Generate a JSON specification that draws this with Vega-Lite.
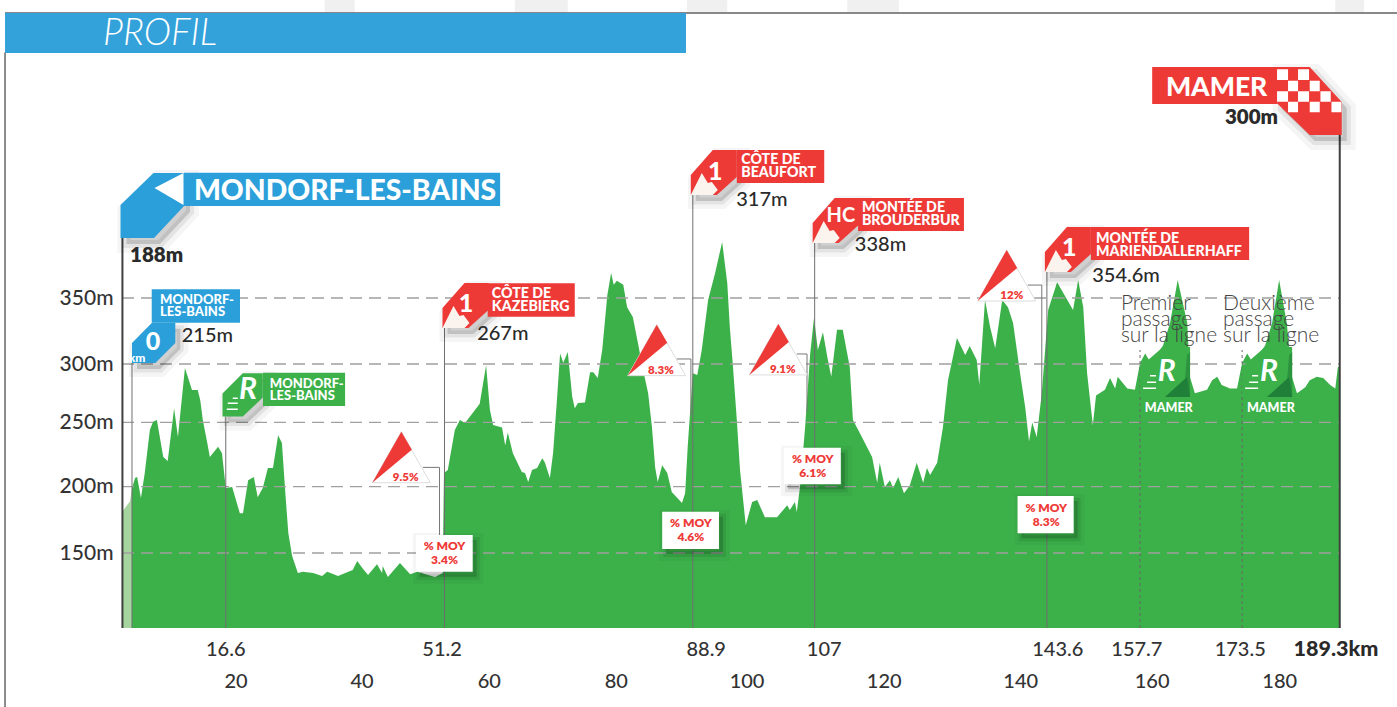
{"$schema":"https://vega.github.io/schema/vega-lite/v6.json","width":1218,"height":628,"autosize":{"type":"none"},"padding":{"left":122,"top":0,"right":57,"bottom":79},"background":"white","config":{"view":{"stroke":null},"text":{"font":"Lato"},"axis":{"labelFont":"Lato"}},
"datasets":{"profile":[{"km":0,"m":199},{"km":0.5,"m":207},{"km":0.8,"m":207.5},{"km":1.4,"m":191.5},{"km":2,"m":210.6},{"km":2.8,"m":244},{"km":3.3,"m":250.5},{"km":3.9,"m":252},{"km":4.9,"m":223},{"km":5.6,"m":220},{"km":6.6,"m":262},{"km":7.2,"m":238.6},{"km":8.3,"m":296.6},{"km":9.4,"m":277.7},{"km":10.3,"m":277.7},{"km":10.7,"m":269},{"km":11.1,"m":252},{"km":11.8,"m":234},{"km":12.2,"m":223},{"km":13.5,"m":231},{"km":14.1,"m":226},{"km":14.7,"m":199},{"km":15.7,"m":199.8},{"km":16.9,"m":180},{"km":17.4,"m":180},{"km":18.2,"m":205},{"km":19.1,"m":207.5},{"km":19.7,"m":192},{"km":20.5,"m":199},{"km":21.3,"m":214.6},{"km":22.1,"m":214.6},{"km":22.9,"m":240},{"km":23.5,"m":234},{"km":24,"m":197.5},{"km":24.5,"m":165},{"km":25.1,"m":147.6},{"km":26,"m":134},{"km":26.8,"m":135},{"km":28.4,"m":134},{"km":29.8,"m":131.6},{"km":30.6,"m":135},{"km":32.3,"m":131.6},{"km":33.9,"m":135},{"km":34.6,"m":136.4},{"km":35.3,"m":143.6},{"km":36.1,"m":138},{"km":37,"m":132.4},{"km":38.4,"m":141},{"km":39.2,"m":134},{"km":39.3,"m":139.6},{"km":40.1,"m":130.8},{"km":42,"m":142},{"km":43.6,"m":133},{"km":44.7,"m":135},{"km":47.5,"m":130.8},{"km":48.7,"m":134},{"km":48.9,"m":210.6},{"km":49.1,"m":211.5},{"km":49.5,"m":213},{"km":50.6,"m":244},{"km":51.4,"m":252},{"km":52.2,"m":249.5},{"km":53.4,"m":258},{"km":54.5,"m":266},{"km":55.5,"m":299},{"km":56.1,"m":260.5},{"km":56.6,"m":248},{"km":58,"m":246},{"km":58.5,"m":232},{"km":58.9,"m":242},{"km":59.7,"m":226},{"km":61.1,"m":211.5},{"km":61.6,"m":210.6},{"km":62.1,"m":203.6},{"km":62.7,"m":213},{"km":63.5,"m":214.6},{"km":64.3,"m":222},{"km":64.7,"m":219},{"km":65.5,"m":206.8},{"km":66,"m":226},{"km":66.6,"m":269},{"km":67.1,"m":308},{"km":67.6,"m":301},{"km":68.3,"m":309},{"km":69,"m":272},{"km":69.4,"m":262},{"km":69.9,"m":266.5},{"km":71,"m":267},{"km":71.8,"m":293},{"km":72.3,"m":293},{"km":73,"m":288},{"km":73.7,"m":310.6},{"km":74.5,"m":352},{"km":75.1,"m":369},{"km":75.5,"m":360},{"km":76,"m":363},{"km":77,"m":360},{"km":77.6,"m":343},{"km":78.5,"m":335.6},{"km":79.3,"m":316},{"km":80.1,"m":295},{"km":80.9,"m":275},{"km":81.5,"m":246},{"km":82,"m":215},{"km":82.4,"m":203.6},{"km":83.1,"m":216.6},{"km":83.9,"m":210.6},{"km":84.6,"m":196},{"km":86.2,"m":187.7},{"km":86.7,"m":195},{"km":87.1,"m":231},{"km":87.9,"m":292},{"km":88.6,"m":290.6},{"km":89.3,"m":310.6},{"km":90.3,"m":348.5},{"km":91.4,"m":369},{"km":92.5,"m":392.4},{"km":93.3,"m":361.4},{"km":93.7,"m":328},{"km":94.2,"m":297.4},{"km":94.8,"m":252},{"km":95.3,"m":213},{"km":96.2,"m":171},{"km":97.2,"m":188.5},{"km":98,"m":190},{"km":98.7,"m":182.4},{"km":99.2,"m":177},{"km":101.1,"m":177},{"km":102.7,"m":186},{"km":103.1,"m":182.4},{"km":103.9,"m":188.5},{"km":104.2,"m":181},{"km":104.7,"m":199.8},{"km":105.5,"m":246},{"km":106.3,"m":308},{"km":106.9,"m":335},{"km":107.5,"m":310.6},{"km":108.3,"m":324},{"km":109,"m":305},{"km":109.6,"m":289},{"km":110.5,"m":326},{"km":111.4,"m":326},{"km":112.5,"m":297.4},{"km":113,"m":252},{"km":114.4,"m":238.6},{"km":116,"m":223},{"km":116.8,"m":203},{"km":117.2,"m":218.5},{"km":118,"m":199.8},{"km":118.8,"m":205},{"km":119.3,"m":199},{"km":120.1,"m":207.5},{"km":121,"m":195},{"km":121.9,"m":201},{"km":123,"m":218.5},{"km":124,"m":203},{"km":124.6,"m":214.6},{"km":125.1,"m":209},{"km":126.2,"m":218.5},{"km":127.1,"m":246},{"km":127.9,"m":286},{"km":129.3,"m":319.7},{"km":130.6,"m":306.8},{"km":131.3,"m":313.6},{"km":132.4,"m":303},{"km":132.8,"m":282},{"km":133.7,"m":348.5},{"km":134.5,"m":328},{"km":135.3,"m":312},{"km":136.4,"m":348.5},{"km":137.3,"m":343},{"km":138.1,"m":331},{"km":139.2,"m":292},{"km":140,"m":263},{"km":140.6,"m":235},{"km":141.1,"m":249.8},{"km":141.8,"m":238.6},{"km":142.6,"m":275},{"km":143.6,"m":341},{"km":145,"m":362},{"km":147.5,"m":341},{"km":148.3,"m":363.6},{"km":149.1,"m":343},{"km":149.7,"m":292},{"km":150.6,"m":248},{"km":151.1,"m":273},{"km":152.5,"m":278},{"km":153.3,"m":288},{"km":154.1,"m":279},{"km":154.5,"m":289},{"km":156,"m":279},{"km":157.2,"m":278},{"km":158,"m":300.8},{"km":158.8,"m":308},{"km":159.6,"m":301.5},{"km":160.3,"m":305},{"km":161.6,"m":314},{"km":162.7,"m":331},{"km":163.9,"m":363.6},{"km":165.4,"m":331},{"km":165.8,"m":289},{"km":166.6,"m":275},{"km":168.5,"m":278},{"km":169.3,"m":286},{"km":170.1,"m":289},{"km":170.8,"m":282},{"km":172.1,"m":279},{"km":173.2,"m":279},{"km":174,"m":300.8},{"km":174.8,"m":308},{"km":175.6,"m":301.5},{"km":176.3,"m":305},{"km":177.6,"m":314},{"km":178.7,"m":331},{"km":179.8,"m":363.6},{"km":181,"m":331},{"km":181.8,"m":289},{"km":182.6,"m":275},{"km":183.9,"m":280},{"km":184.6,"m":286},{"km":185.7,"m":289},{"km":186.7,"m":288},{"km":187.8,"m":282},{"km":188.6,"m":279},{"km":189,"m":297},{"km":189.3,"m":299}],
"redCaps":[{"km":48.98,"m":327.3},{"km":87.9,"m":428},{"km":107,"m":391.7},{"km":143.4,"m":369.7}],
"gradeTri":[{"km":37.67,"m":203.1},{"km":77.7,"m":290},{"km":96.76,"m":290.6},{"km":132.55,"m":347.7}],
"moy":[{"km":44.5,"km2":53.4,"m":163.6,"m2":135},{"km":83.1,"km2":92,"m":181.1,"m2":153},{"km":102.2,"km2":111.1,"m":230.3,"m2":201.9},{"km":138.8,"km2":147.6,"m":193,"m2":164.9}],
"mamerFlags":[{"km":158,"m":271.7},{"km":174,"m":271.7}],
"redLabels":[{"km":55.75,"km2":69.4,"m":361.1,"m2":335.8},{"km":94.8,"km2":108.5,"m":462.1,"m2":437.1},{"km":113.8,"km2":130.4,"m":425.8,"m2":400.8},{"km":150.3,"km2":175.1,"m":403.8,"m2":378.8},{"km":159.9,"km2":179.5,"m":525,"m2":497}]},
"encoding":{"x":{"field":"km","type":"quantitative","scale":{"domain":[-1.567,189.34],"nice":false,"zero":false},"axis":null,"title":null},"y":{"field":"m","type":"quantitative","scale":{"domain":[27.6,90,150,200,250,300,350,575.8],"range":[707,628,553,486.7,422.3,364,298,0],"nice":false,"zero":false},"title":null,"axis":{"values":[150,200,250,300,350],"labelExpr":"datum.value + 'm'","grid":false,"ticks":false,"domain":false,"labelFontSize":21,"labelColor":"#333333","labelPadding":9,"labelFontWeight":500}}},
"layer":[
{"data":{"values":[{"km":30.2,"km2":34.9,"m":575.8,"m2":566},{"km":60,"km2":68.3,"m":575.8,"m2":566},{"km":87,"km2":93.3,"m":575.8,"m2":566},{"km":112.1,"km2":120.2,"m":575.8,"m2":566},{"km":188.6,"km2":193.1,"m":575.8,"m2":566}]},"mark":{"type":"rect","color":"#f0f0f0"},"encoding":{"x2":{"field":"km2"},"y2":{"field":"m2"}}},
{"data":{"values":[{"km":-19.9,"km2":198.27,"m":566}]},"mark":{"type":"rule","color":"#888888","strokeWidth":2},"encoding":{"x2":{"field":"km2"}}},
{"data":{"values":[{"km":-19.9,"m":536,"m2":27.6}]},"mark":{"type":"rule","color":"#666666","strokeWidth":1.5},"encoding":{"y2":{"field":"m2"}}},
{"data":{"values":[{"km":-19.9,"km2":86.83,"m":565.9,"m2":535.6}]},"mark":{"type":"rect","color":"#33a1da"},"encoding":{"x2":{"field":"km2"},"y2":{"field":"m2"}}},
{"data":{"values":[{"km":-4.55,"m":550,"label":"PROFIL"}]},"mark":{"type":"text","align":"left","baseline":"middle","fontSize":37,"fontStyle":"italic","fontWeight":300,"color":"white"},"encoding":{"text":{"field":"label"}}},
{"data":{"values":[{"km":-1.567,"m":181},{"km":-0.3,"m":189},{"km":0,"m":199}]},"mark":{"type":"area","color":"#a6d49f"},"encoding":{"y2":{"datum":90}}},
{"data":{"name":"profile"},"mark":{"type":"area","color":"#3cb14a"},"encoding":{"y2":{"datum":90}}},
{"data":{"values":[{"km":-1.567,"km2":189.3,"m":150},{"km":-1.567,"km2":189.3,"m":200},{"km":-1.567,"km2":189.3,"m":250},{"km":-1.567,"km2":189.3,"m":300},{"km":-1.567,"km2":189.3,"m":350}]},"mark":{"type":"rule","color":"#a0a0a0","strokeWidth":1.3,"strokeDash":[12,7]},"encoding":{"x2":{"field":"km2"}}},
{"data":{"values":[{"km":0,"m":90,"m2":300.8},{"km":14.7,"m":90,"m2":254.9},{"km":48.98,"m":90,"m2":327.3},{"km":87.9,"m":90,"m2":428},{"km":107,"m":90,"m2":391.7},{"km":143.4,"m":90,"m2":369.7}]},"mark":{"type":"rule","color":"#6f6f6f","strokeWidth":1},"encoding":{"y2":{"field":"m2"}}},
{"data":{"values":[{"km":158,"m":90,"m2":310.6},{"km":174,"m":90,"m2":310.6}]},"mark":{"type":"rule","color":"#666666","strokeWidth":1,"strokeDash":[3,3]},"encoding":{"y2":{"field":"m2"}}},
{"data":{"values":[{"km":-1.5,"m":90,"m2":395.5},{"km":189.3,"m":90,"m2":473.5}]},"mark":{"type":"rule","color":"#3f3f3f","strokeWidth":2},"encoding":{"y2":{"field":"m2"}}},
{"data":{"values":[{"id":"a","km":45.6,"m":215},{"id":"a","km":48.2,"m":215},{"id":"a","km":48.2,"m":163.6},{"id":"b","km":85.4,"m":303.8},{"id":"b","km":87.6,"m":303.8},{"id":"b","km":87.6,"m":256},{"id":"c","km":104.2,"m":307.6},{"id":"c","km":105.8,"m":307.6},{"id":"c","km":105.8,"m":258.8},{"id":"d","km":140.4,"m":359.8},{"id":"d","km":142.6,"m":359.8},{"id":"d","km":142.6,"m":266.6}]},"mark":{"type":"line","color":"#777777","strokeWidth":1},"encoding":{"detail":{"field":"id"},"order":{"field":"m","sort":"descending"}}},

{"data":{"name":"mamerFlags"},"mark":{"type":"point","filled":true,"opacity":1,"color":"#3cb14a","size":40000,"shape":"M0 0L0 -0.3L0.23 -0.5L0.5 -0.5L0.5 0Z"}},
{"data":{"name":"mamerFlags"},"mark":{"type":"point","filled":true,"opacity":1,"color":"#2c933f","size":40000,"shape":"M0.25 0L0.45 -0.18L0.47 -0.42L0.5 -0.45L0.5 0Z"}},
{"data":{"name":"mamerFlags"},"mark":{"type":"point","filled":true,"opacity":1,"color":"#20803a","size":40000,"shape":"M0.25 0L0.47 -0.2L0.5 0Z"}},
{"data":{"name":"mamerFlags"},"mark":{"type":"point","filled":true,"opacity":1,"color":"white","size":40000,"shape":"M0.1 -0.22L0.16 -0.22L0.16 -0.205L0.1 -0.205ZM0.07 -0.155L0.16 -0.155L0.16 -0.14L0.07 -0.14ZM0.03 -0.095L0.16 -0.095L0.16 -0.08L0.03 -0.08Z"}},

{"data":{"name":"redCaps"},"mark":{"type":"point","filled":true,"opacity":1,"fill":"black","fillOpacity":0.05,"stroke":"black","strokeOpacity":0.04,"strokeWidth":16,"size":40000,"xOffset":5,"yOffset":6,"shape":"M-0.02 0L-0.02 -0.2L0.2 -0.45L0.44 -0.45L0.44 -0.18L0.24 0Z"}},
{"data":{"name":"redCaps"},"mark":{"type":"point","filled":true,"opacity":1,"fill":"black","fillOpacity":0.1,"stroke":"black","strokeOpacity":0.07,"strokeWidth":7,"size":40000,"xOffset":5,"yOffset":6,"shape":"M-0.02 0L-0.02 -0.2L0.2 -0.45L0.44 -0.45L0.44 -0.18L0.24 0Z"}},
{"data":{"values":[{"km":-1.567,"m":395.5}]},"mark":{"type":"point","filled":true,"opacity":1,"fill":"black","fillOpacity":0.05,"stroke":"black","strokeOpacity":0.04,"strokeWidth":18,"size":40000,"xOffset":6,"yOffset":6,"shape":"M-0.015 0L-0.015 -0.33L0.315 -0.65L0.62 -0.65L0.62 -0.32L0.32 0Z"}},
{"data":{"values":[{"km":-1.567,"m":395.5}]},"mark":{"type":"point","filled":true,"opacity":1,"fill":"black","fillOpacity":0.1,"stroke":"black","strokeOpacity":0.07,"strokeWidth":8,"size":40000,"xOffset":6,"yOffset":6,"shape":"M-0.015 0L-0.015 -0.33L0.315 -0.65L0.62 -0.65L0.62 -0.32L0.32 0Z"}},
{"data":{"values":[{"km":0,"m":300.8}]},"mark":{"type":"point","filled":true,"opacity":1,"fill":"black","fillOpacity":0.05,"stroke":"black","strokeOpacity":0.04,"strokeWidth":16,"size":40000,"xOffset":5,"yOffset":6,"shape":"M0 0L0 -0.2L0.2 -0.403L0.433 -0.403L0.433 -0.2L0.233 0Z"}},
{"data":{"values":[{"km":0,"m":300.8}]},"mark":{"type":"point","filled":true,"opacity":1,"fill":"black","fillOpacity":0.1,"stroke":"black","strokeOpacity":0.07,"strokeWidth":7,"size":40000,"xOffset":5,"yOffset":6,"shape":"M0 0L0 -0.2L0.2 -0.403L0.433 -0.403L0.433 -0.2L0.233 0Z"}},
{"data":{"values":[{"km":14.7,"m":254.9}]},"mark":{"type":"point","filled":true,"opacity":1,"fill":"black","fillOpacity":0.05,"stroke":"black","strokeOpacity":0.04,"strokeWidth":16,"size":40000,"xOffset":5,"yOffset":6,"shape":"M-0.033 0L-0.033 -0.23L0.17 -0.433L0.37 -0.433L0.37 -0.19L0.17 0Z"}},
{"data":{"values":[{"km":14.7,"m":254.9}]},"mark":{"type":"point","filled":true,"opacity":1,"fill":"black","fillOpacity":0.1,"stroke":"black","strokeOpacity":0.07,"strokeWidth":7,"size":40000,"xOffset":5,"yOffset":6,"shape":"M-0.033 0L-0.033 -0.23L0.17 -0.433L0.37 -0.433L0.37 -0.19L0.17 0Z"}},
{"data":{"values":[{"km":189.3,"m":473.5}]},"mark":{"type":"point","filled":true,"opacity":1,"fill":"black","fillOpacity":0.05,"stroke":"black","strokeOpacity":0.04,"strokeWidth":18,"size":40000,"xOffset":5,"yOffset":6,"shape":"M-0.63 -0.68L-0.3 -0.68L0.02 -0.33L0.02 0L-0.3 0L-0.63 -0.32Z"}},
{"data":{"values":[{"km":189.3,"m":473.5}]},"mark":{"type":"point","filled":true,"opacity":1,"fill":"black","fillOpacity":0.1,"stroke":"black","strokeOpacity":0.07,"strokeWidth":8,"size":40000,"xOffset":5,"yOffset":6,"shape":"M-0.63 -0.68L-0.3 -0.68L0.02 -0.33L0.02 0L-0.3 0L-0.63 -0.32Z"}},
{"data":{"name":"moy"},"mark":{"type":"rect","color":"black","opacity":1,"fillOpacity":0.05,"stroke":"black","strokeOpacity":0.04,"strokeWidth":14,"xOffset":4,"x2Offset":4,"yOffset":5,"y2Offset":5},"encoding":{"x2":{"field":"km2"},"y2":{"field":"m2"}}},
{"data":{"name":"moy"},"mark":{"type":"rect","color":"black","opacity":1,"fillOpacity":0.1,"stroke":"black","strokeOpacity":0.08,"strokeWidth":6,"xOffset":4,"x2Offset":4,"yOffset":5,"y2Offset":5},"encoding":{"x2":{"field":"km2"},"y2":{"field":"m2"}}},

{"data":{"name":"redLabels"},"mark":{"type":"rect","color":"#ee3a37"},"encoding":{"x2":{"field":"km2"},"y2":{"field":"m2"}}},
{"data":{"name":"redCaps"},"mark":{"type":"point","filled":true,"opacity":1,"color":"#ee3a37","size":40000,"shape":"M-0.02 0L-0.02 -0.2L0.2 -0.45L0.44 -0.45L0.44 -0.18L0.24 0Z"}},
{"data":{"name":"redCaps"},"mark":{"type":"point","filled":true,"opacity":1,"color":"#fbf4ee","size":40000,"shape":"M-0.02 0L0.09 -0.22L0.15 -0.12L0.19 -0.13L0.25 -0.05L0.2 0Z"}},
{"data":{"values":[{"km":189.3,"m":473.5}]},"mark":{"type":"point","filled":true,"opacity":1,"color":"#ee3a37","size":40000,"shape":"M-0.63 -0.68L-0.3 -0.68L0.02 -0.33L0.02 0L-0.3 0L-0.63 -0.32Z"}},
{"data":{"values":[{"km":189.3,"m":473.5}]},"mark":{"type":"point","filled":true,"opacity":1,"color":"white","size":40000,"shape":"M-0.627 -0.657L-0.517 -0.657L-0.517 -0.55L-0.627 -0.55ZM-0.417 -0.657L-0.307 -0.657L-0.307 -0.55L-0.417 -0.55ZM-0.517 -0.543L-0.417 -0.543L-0.417 -0.437L-0.517 -0.437ZM-0.3 -0.543L-0.2 -0.543L-0.2 -0.437L-0.3 -0.437ZM-0.627 -0.437L-0.517 -0.437L-0.517 -0.333L-0.627 -0.333ZM-0.417 -0.437L-0.307 -0.437L-0.307 -0.333L-0.417 -0.333ZM-0.193 -0.437L-0.09 -0.437L-0.09 -0.333L-0.193 -0.333ZM-0.517 -0.333L-0.417 -0.333L-0.417 -0.227L-0.517 -0.227ZM-0.3 -0.333L-0.2 -0.333L-0.2 -0.227L-0.3 -0.227ZM-0.083 -0.333L0.017 -0.333L0.017 -0.227L-0.083 -0.227Z"}},

{"data":{"values":[{"km":8.15,"km2":57.7,"m":444.9,"m2":419.7},{"km":3.09,"km2":16.93,"m":356.6,"m2":331.3}]},"mark":{"type":"rect","color":"#2a9fda"},"encoding":{"x2":{"field":"km2"},"y2":{"field":"m2"}}},
{"data":{"values":[{"km":-1.567,"m":395.5}]},"mark":{"type":"point","filled":true,"opacity":1,"color":"#2a9fda","size":40000,"shape":"M-0.015 0L-0.015 -0.33L0.315 -0.65L0.62 -0.65L0.62 -0.32L0.32 0Z"}},
{"data":{"values":[{"km":-1.567,"m":395.5}]},"mark":{"type":"point","filled":true,"opacity":1,"color":"white","size":40000,"shape":"M0.325 -0.5L0.615 -0.65L0.615 -0.33Z"}},
{"data":{"values":[{"km":0,"m":300.8}]},"mark":{"type":"point","filled":true,"opacity":1,"color":"#2a9fda","size":40000,"shape":"M0 0L0 -0.2L0.2 -0.403L0.433 -0.403L0.433 -0.2L0.233 0Z"}},
{"data":{"values":[{"km":20.53,"km2":33.4,"m":292.5,"m2":264}]},"mark":{"type":"rect","color":"#3cb14a"},"encoding":{"x2":{"field":"km2"},"y2":{"field":"m2"}}},
{"data":{"values":[{"km":14.7,"m":254.9}]},"mark":{"type":"point","filled":true,"opacity":1,"color":"#3cb14a","size":40000,"shape":"M-0.033 0L-0.033 -0.23L0.17 -0.433L0.37 -0.433L0.37 -0.19L0.17 0Z"}},
{"data":{"values":[{"km":14.7,"m":254.9}]},"mark":{"type":"point","filled":true,"opacity":1,"color":"white","size":40000,"shape":"M0.07 -0.19L0.12 -0.19L0.12 -0.175L0.07 -0.175ZM0.02 -0.14L0.12 -0.14L0.12 -0.125L0.02 -0.125ZM0.01 -0.08L0.12 -0.08L0.12 -0.065L0.01 -0.065Z"}},

{"data":{"name":"gradeTri"},"mark":{"type":"point","filled":true,"opacity":1,"color":"white","stroke":"#dddddd","strokeWidth":1,"size":40000,"shape":"M0 0L0.29 -0.51L0.58 0Z"}},
{"data":{"name":"gradeTri"},"mark":{"type":"point","filled":true,"opacity":1,"color":"#ee3a37","size":40000,"shape":"M0 0L0.29 -0.51L0.395 -0.33Z"}},
{"data":{"name":"moy"},"mark":{"type":"rect","color":"white"},"encoding":{"x2":{"field":"km2"},"y2":{"field":"m2"}}},

{"data":{"values":[{"km":48.98,"m":150,"label":"% MOY\n3.4%"},{"km":87.6,"m":167.4,"label":"% MOY\n4.6%"},{"km":106.7,"m":216,"label":"% MOY\n6.1%"},{"km":143.3,"m":178.9,"label":"% MOY\n8.3%"}]},"mark":{"type":"text","lineBreak":"\n","lineHeight":14,"dy":-7,"align":"center","baseline":"middle","fontSize":12,"fontWeight":800,"color":"#ee3a37"},"encoding":{"text":{"field":"label"}}},
{"data":{"values":[{"km":42.9,"m":206.9,"label":"9.5%"},{"km":82.9,"m":294,"label":"8.3%"},{"km":102,"m":294.9,"label":"9.1%"},{"km":137.9,"m":351.5,"label":"12%"}]},"mark":{"type":"text","align":"center","baseline":"middle","fontSize":11.5,"fontWeight":800,"color":"#ee3a37"},"encoding":{"text":{"field":"label"}}},
{"data":{"values":[{"km":56.4,"m":348.5,"label":"CÔTE DE\nKAZEBIERG"},{"km":95.5,"m":450,"label":"CÔTE DE\nBEAUFORT"},{"km":114.4,"m":413.6,"label":"MONTÉE DE\nBROUDERBUR"},{"km":151.1,"m":390.2,"label":"MONTÉE DE\nMARIENDALLERHAFF"}]},"mark":{"type":"text","lineBreak":"\n","lineHeight":13,"dy":-6,"align":"left","baseline":"middle","fontSize":14.2,"fontWeight":900,"color":"white"},"encoding":{"text":{"field":"label"}}},
{"data":{"values":[{"km":4.4,"m":344,"label":"MONDORF-\nLES-BAINS"},{"km":21.6,"m":277.7,"label":"MONDORF-\nLES-BAINS"}]},"mark":{"type":"text","lineBreak":"\n","lineHeight":12,"dy":-6,"align":"left","baseline":"middle","fontSize":13,"fontWeight":900,"color":"white"},"encoding":{"text":{"field":"label"}}},
{"data":{"values":[{"km":52.35,"m":345.5,"label":"1"},{"km":91.4,"m":445.5,"label":"1"},{"km":146.9,"m":387.9,"label":"1"},{"km":3.3,"m":316.7,"label":"0"}]},"mark":{"type":"text","align":"center","baseline":"middle","fontSize":25,"fontWeight":900,"color":"white"},"encoding":{"text":{"field":"label"}}},
{"data":{"values":[{"km":111.1,"m":412,"label":"HC"}]},"mark":{"type":"text","align":"center","baseline":"middle","fontSize":20,"fontWeight":700,"color":"white"},"encoding":{"text":{"field":"label"}}},
{"data":{"values":[{"km":0.8,"m":304.5,"label":"km"}]},"mark":{"type":"text","align":"center","baseline":"middle","fontSize":12,"fontWeight":900,"color":"white"},"encoding":{"text":{"field":"label"}}},
{"data":{"values":[{"km":18.2,"m":277.7,"label":"R"},{"km":162.2,"m":293.1,"label":"R"},{"km":178.2,"m":293.1,"label":"R"}]},"mark":{"type":"text","align":"center","baseline":"middle","fontSize":30,"fontWeight":700,"fontStyle":"italic","color":"white"},"encoding":{"text":{"field":"label"}}},
{"data":{"values":[{"km":162.5,"m":262.3,"label":"MAMER"},{"km":178.5,"m":262.3,"label":"MAMER"}]},"mark":{"type":"text","align":"center","baseline":"middle","fontSize":12.5,"fontWeight":900,"color":"white"},"encoding":{"text":{"field":"label"}}},
{"data":{"values":[{"km":9.7,"m":430.5,"label":"MONDORF-LES-BAINS"}]},"mark":{"type":"text","align":"left","baseline":"middle","fontSize":28.3,"fontWeight":900,"color":"white"},"encoding":{"text":{"field":"label"}}},
{"data":{"values":[{"km":170,"m":509,"label":"MAMER"}]},"mark":{"type":"text","align":"center","baseline":"middle","fontSize":26.5,"fontWeight":900,"color":"white"},"encoding":{"text":{"field":"label"}}},
{"data":{"values":[{"km":7.8,"m":321.2,"label":"215m"},{"km":54.1,"m":322.7,"label":"267m"},{"km":94.7,"m":424.2,"label":"317m"},{"km":113.3,"m":390.2,"label":"338m"},{"km":150.5,"m":366.7,"label":"354.6m"}]},"mark":{"type":"text","align":"left","baseline":"middle","fontSize":20,"fontWeight":500,"color":"#2a2a2a"},"encoding":{"text":{"field":"label"}}},
{"data":{"values":[{"km":-0.3,"m":381.8,"label":"188m"},{"km":171.3,"m":486.4,"label":"300m"}]},"mark":{"type":"text","align":"left","baseline":"middle","fontSize":20.5,"fontWeight":800,"color":"#2a2a2a"},"encoding":{"text":{"field":"label"}}},
{"data":{"values":[{"km":155,"m":333.3,"label":"Premier\npassage\nsur la ligne"},{"km":171,"m":333.3,"label":"Deuxième\npassage\nsur la ligne"}]},"mark":{"type":"text","lineBreak":"\n","lineHeight":16,"dy":-16,"align":"left","baseline":"middle","fontSize":21,"fontWeight":300,"color":"#444444"},"encoding":{"text":{"field":"label"}}},
{"data":{"values":[{"km":14.7,"m":72.4,"label":"16.6"},{"km":48.6,"m":72.4,"label":"51.2"},{"km":90,"m":72.4,"label":"88.9"},{"km":108.5,"m":72.4,"label":"107"},{"km":145.1,"m":72.4,"label":"143.6"},{"km":157.5,"m":72.4,"label":"157.7"},{"km":173.7,"m":72.4,"label":"173.5"},{"km":16.3,"m":47.6,"label":"20"},{"km":36.05,"m":47.6,"label":"40"},{"km":56,"m":47.6,"label":"60"},{"km":75.9,"m":47.6,"label":"80"},{"km":96.4,"m":47.6,"label":"100"},{"km":117.9,"m":47.6,"label":"120"},{"km":139.3,"m":47.6,"label":"140"},{"km":159.9,"m":47.6,"label":"160"},{"km":179.9,"m":47.6,"label":"180"}]},"mark":{"type":"text","align":"center","baseline":"middle","fontSize":20,"fontWeight":500,"color":"#333333"},"encoding":{"text":{"field":"label"}}},
{"data":{"values":[{"km":188.7,"m":72.4,"label":"189.3km"}]},"mark":{"type":"text","align":"center","baseline":"middle","fontSize":21.5,"fontWeight":900,"color":"#2a2a2a"},"encoding":{"text":{"field":"label"}}}
],"resolve":{"scale":{"x":"shared","y":"shared"}}}
